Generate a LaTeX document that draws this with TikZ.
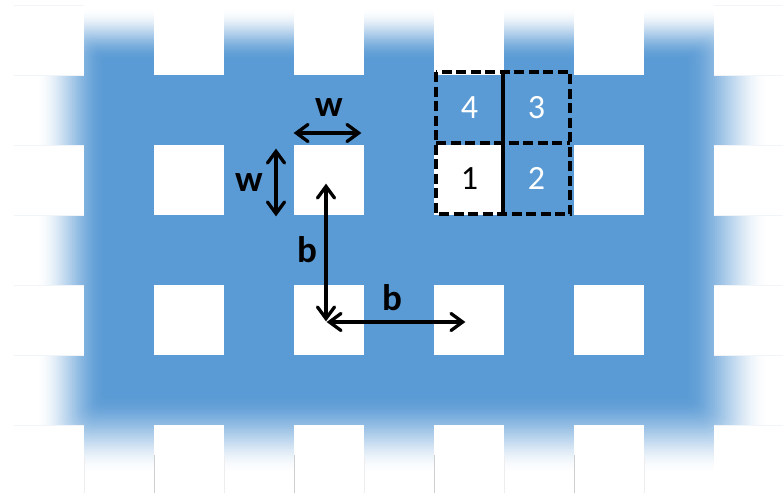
\documentclass[tikz,border=0pt]{standalone}
\usepackage{fontspec}
\setmainfont{Carlito}
\usetikzlibrary{arrows.meta}
\pgfdeclarearrow{
  name=OpenHead,
  setup code={\pgfarrowssettipend{0pt}\pgfarrowssetbackend{-16pt}\pgfarrowssetlineend{-4pt}\pgfarrowssetvisualbackend{-4pt}},
  drawing code={
    \pgfsetdash{}{0pt}\pgfsetmiterjoin\pgfsetroundcap\pgfsetlinewidth{3.3pt}
    \pgfpathmoveto{\pgfpoint{-15pt}{8.5pt}}
    \pgfpathlineto{\pgfpoint{-3.4pt}{0pt}}
    \pgfpathlineto{\pgfpoint{-15pt}{-8.5pt}}
    \pgfusepathqstroke},
  defaults={}
}
\definecolor{plate}{HTML}{5B9BD5}
\definecolor{hairline}{HTML}{F1F4F8}
\definecolor{seamdark}{HTML}{CFCFD2}
\definecolor{seamlight}{HTML}{EDEDF0}
\tikzset{
  x=1pt,y=-1pt,
  hole/.style={fill=white,minimum size=70pt,inner sep=0pt,outer sep=0pt,anchor=north west},
  cell/.style={minimum width=67pt,minimum height=71pt,inner sep=0pt,outer sep=0pt,anchor=north west,font=\fontsize{34}{34}\selectfont},
  dim/.style={line width=3.3pt,{OpenHead}-{OpenHead}},
  lab/.style={font=\bfseries\fontsize{37}{37}\selectfont,inner sep=0pt},
  dashbox/.style={draw=black,line width=3.8pt,dash pattern=on 10pt off 4.5pt},
  seamA/.style={draw=seamdark,line width=0.9pt},
  seamB/.style={draw=seamlight,line width=0.8pt},
  seamC/.style={draw=hairline,line width=0.8pt},
}
\begin{document}
\begin{tikzpicture}
\useasboundingbox (0,0) rectangle (783,495);
% soft-edged plate
\foreach \i in {0,1,...,40}{
  \pgfmathsetmacro{\t}{\i/40}
  \pgfmathsetmacro{\m}{100*(3*\t*\t-2*\t*\t*\t)}
  \pgfmathsetmacro{\r}{40*(1-\t)+1}
  \colorlet{stepcol}{plate!\m!white}
  \fill[stepcol,rounded corners=\r pt] (35+\t*70,8+\t*52) rectangle (770-\t*85,475-\t*80);
}
% holes
\foreach \x/\cn in {14/a,154/b,294/c,434/d,574/e,714/f}
  \foreach \y/\rn in {5/1,145/2,285/3,425/4}
    \node[hole] (h\cn\rn) at (\x,\y) {};
% faint seams left in the white margins
\foreach \cn in {b,c,d,e}{
  \draw[seamA] ([yshift=-30pt]h\cn4.north west) -- ([yshift=2pt]h\cn4.south west);
  \draw[seamB] ([yshift=-30pt]h\cn4.north east) -- ([yshift=2pt]h\cn4.south east);
}
\draw[seamB] ([yshift=-30pt]ha4.north east) -- ([yshift=2pt]ha4.south east);
\foreach \rn in {1,2,3,4}{
  \draw[seamC] (ha\rn.north west) -- (ha\rn.north east);
  \draw[seamC] (hf\rn.north west) -- (hf\rn.north east);
}
\foreach \rn in {1,2,3}{
  \draw[seamC] (ha\rn.south west) -- (ha\rn.south east);
  \draw[seamC] (hf\rn.south west) -- (hf\rn.south east);
}
% dimension arrows
\coordinate (wl) at (293,133);
\coordinate (wr) at (362,133);
\coordinate (wt) at (276,148);
\coordinate (wb) at (276,217);
\coordinate (bt) at (326,183);
\coordinate (bo) at (326,322);
\coordinate (br) at (466,322);
\draw[dim] (wl) -- (wr);
\draw[dim] (wt) -- (wb);
\draw[dim] (bt) -- (bo);
\draw[dim] (bo) -- (br);
\node[lab] (lw1) at (329,108) {w};
\node[lab] (lw2) at (249,183) {w};
\node[lab] (lb1) at (307,250) {b};
\node[lab] (lb2) at (392,298) {b};
% unit cell
\node[cell,text=white] (c4) at (436,72) {4};
\node[cell,text=white] (c3) at (503,72) {3};
\node[cell,text=black] (c1) at (436,143) {1};
\node[cell,text=white] (c2) at (503,143) {2};
\draw[dashbox] (c4.north west) rectangle (c2.south east);
\draw[dashbox] (c4.south west) -- (c2.north east);
\draw[black,line width=3.8pt] (c4.north east) -- (c1.south east);
\end{tikzpicture}
\end{document}
